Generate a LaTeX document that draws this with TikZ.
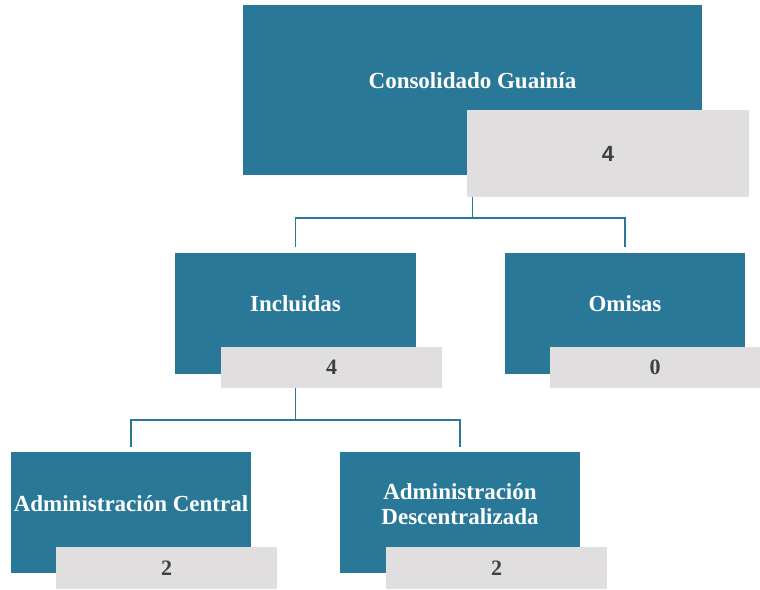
\documentclass[tikz,border=0pt]{standalone}
\usepackage{fontspec}
\setmainfont{Liberation Serif}
\newfontfamily\numsans{Liberation Sans}
\usetikzlibrary{positioning}

\definecolor{orgblue}{RGB}{42,120,152}
\definecolor{orggray}{RGB}{224,222,223}
\definecolor{numtext}{RGB}{64,64,64}

\begin{document}
\begin{tikzpicture}[x=1pt,y=1pt,
    bluebox/.style={fill=orgblue, draw=none, minimum width=#1, inner sep=0pt},
    graybox/.style={fill=orggray, draw=none, inner sep=0pt, text=numtext,
      font=\fontsize{22}{24}\selectfont\bfseries},
    head/.style={text=white, align=center, font=\fontsize{23}{25}\selectfont\bfseries},
    link/.style={draw=orgblue, line width=1.5pt}]

    \useasboundingbox (0,0) rectangle (760,589);

    % top
    \node[bluebox=459pt, minimum height=170pt] (cons) at (472.5,499) {};
    \node[head] (consT) at (472.5,508) {Consolidado Guainía};
    \node[graybox, minimum width=282pt, minimum height=87pt] (consN) at (608,435.5) {\numsans\bfseries 4};

    % level 2
    \node[bluebox=241pt, minimum height=121pt] (inc) at (295.5,275.5) {};
    \node[head] (incT) at (295.5,285) {Incluidas};
    \node[graybox, minimum width=221pt, minimum height=41pt] (incN) at (331.5,221.5) {4};

    \node[bluebox=240pt, minimum height=121pt] (omi) at (625,275.5) {};
    \node[head] (omiT) at (625,285) {Omisas};
    \node[graybox, minimum width=210pt, minimum height=41pt] (omiN) at (655,221.5) {0};

    % level 3
    \node[bluebox=240pt, minimum height=121pt] (adc) at (131,76.5) {};
    \node[head] (adcT) at (131,85) {Administración Central};
    \node[graybox, minimum width=221pt, minimum height=42pt] (adcN) at (166.5,21) {2};

    \node[bluebox=240pt, minimum height=121pt] (add) at (460,76.5) {};
    \node[head] (addT) at (460,85) {Administración\\Descentralizada};
    \node[graybox, minimum width=221pt, minimum height=42pt] (addN) at (496.5,21) {2};

    % links
    \draw[link] (cons.center |- consN.south) -- ++(0,-21) coordinate (j1);
    \draw[link] ([yshift=6]inc.north) |- (j1) -| ([yshift=6]omi.north);
    \draw[link] (inc.center |- incN.south) -- ++(0,-32) coordinate (j2);
    \draw[link] ([yshift=5]adc.north) |- (j2) -| ([yshift=5]add.north);
  \end{tikzpicture}
\end{document}
